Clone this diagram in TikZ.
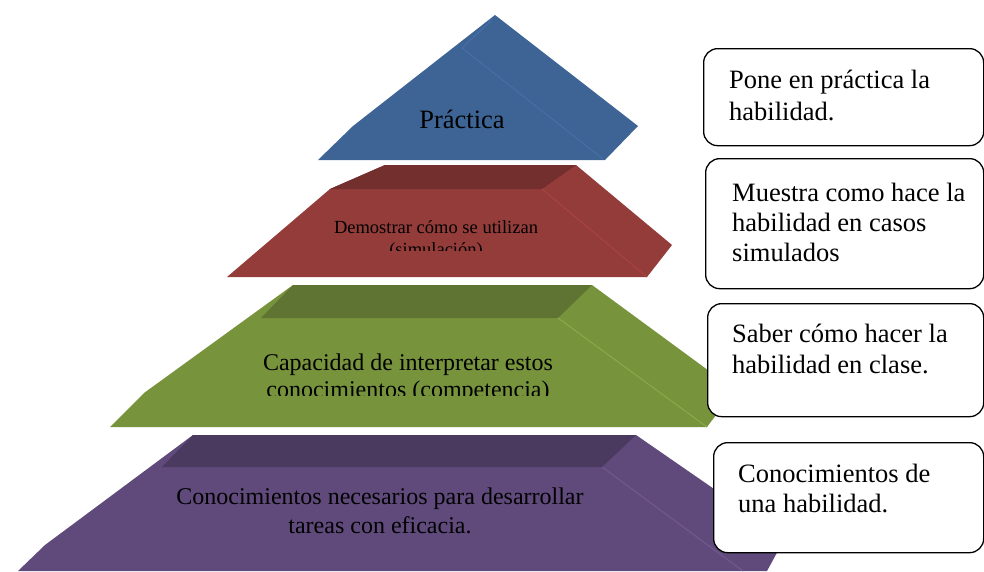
\documentclass[tikz,border=0pt]{standalone}
\usepackage{fontspec}
\setmainfont{Liberation Serif}
\definecolor{azul}{HTML}{3D6494}
\definecolor{azulclaro}{HTML}{4670A6}
\definecolor{rojo}{HTML}{943C3A}
\definecolor{rojotapa}{HTML}{722F2E}
\definecolor{rojoclaro}{HTML}{A8443F}
\definecolor{verde}{HTML}{77933C}
\definecolor{verdetapa}{HTML}{5F7433}
\definecolor{verdeclaro}{HTML}{8BAA4A}
\definecolor{morado}{HTML}{604A7B}
\definecolor{moradotapa}{HTML}{4B3A5F}
\definecolor{moradoclaro}{HTML}{72598F}
\begin{document}
\begin{tikzpicture}[x=1pt,y=-1pt]\tikzstyle{every node} = [inner sep=0pt]
    \tikzstyle{caja} = [draw=black, line width=1.3pt, rounded corners=14pt, fill=white, anchor=north west]
    \tikzstyle{textocaja} = [anchor=base west, align=left, font=\rmfamily\fontsize{26.5}{31}\selectfont]
    \tikzstyle{nivel} = [anchor=base, align=center]
    \useasboundingbox (0,0) rectangle (984,571);

    % piramide, de abajo hacia arriba
    \fill[morado] (193,435) -- (636,435) -- (785,538) -- (767,571) -- (18,571) -- (45,545) -- cycle;
    \fill[moradotapa] (193,435) -- (636,435) -- (602,467) -- (162,467) -- cycle;
    \draw[moradoclaro, line width=1pt] (602,467) -- (743,571);

    \fill[verde] (293,285) -- (592,285) -- (735,390) -- (707,427) -- (110,427) -- (144,393) -- cycle;
    \fill[verdetapa] (293,285) -- (592,285) -- (558,318) -- (261,318) -- cycle;
    \draw[verdeclaro, line width=1pt] (558,318) -- (707,427);

    \fill[rojo] (385,165) -- (576,165) -- (672,245) -- (647,277) -- (227,277) -- (330,189) -- cycle;
    \fill[rojotapa] (385,165) -- (576,165) -- (542,189) -- (330,189) -- cycle;
    \draw[rojoclaro, line width=1pt] (542,189) -- (647,277);

    \fill[azul] (495,15) -- (638,126) -- (605,160) -- (318,160) -- (353,126) -- cycle;
    \draw[azulclaro, line width=1pt] (492,20) -- (462,48) -- (603,159);

    \node[nivel, font=\rmfamily\fontsize{26.5}{31}\selectfont] (practica) at (462,128) {Práctica};
    \begin{scope}
      \clip (0,0) rectangle (984,250);
      \node[nivel, font=\rmfamily\fontsize{18.5}{22}\selectfont] (demostrar) at (436,255) {Demostrar cómo se utilizan\\(simulación)};
    \end{scope}
    \begin{scope}
      \clip (0,0) rectangle (984,395);
      \node[nivel, font=\rmfamily\fontsize{24}{27}\selectfont] (capacidad) at (408,397) {Capacidad de interpretar estos\\conocimientos (competencia)};
    \end{scope}
    \node[nivel, font=\rmfamily\fontsize{24}{29}\selectfont] (conocimientos) at (380,533) {Conocimientos necesarios para desarrollar\\tareas con eficacia.};

    % cuadros de la derecha
    \node[caja, minimum width=280, minimum height=97] (cajapone) at (703,48) {};
    \node[caja, minimum width=278, minimum height=130] (cajamuestra) at (705,158) {};
    \node[caja, minimum width=276, minimum height=113] (cajasaber) at (707,303) {};
    \node[caja, minimum width=270, minimum height=110] (cajaconoc) at (713,442) {};

    \node[textocaja, font=\rmfamily\fontsize{26.5}{32}\selectfont] (pone) at (729,120) {Pone en práctica la\\habilidad.};
    \node[textocaja, font=\rmfamily\fontsize{26.5}{30}\selectfont] (muestra) at (732,261) {Muestra como hace la\\habilidad en casos\\simulados};
    \node[textocaja] (saber) at (732,373) {Saber cómo hacer la\\habilidad en clase.};
    \node[textocaja, font=\rmfamily\fontsize{26.5}{30}\selectfont] (conoc) at (738,512) {Conocimientos de\\una habilidad.};
  \end{tikzpicture}
\end{document}
